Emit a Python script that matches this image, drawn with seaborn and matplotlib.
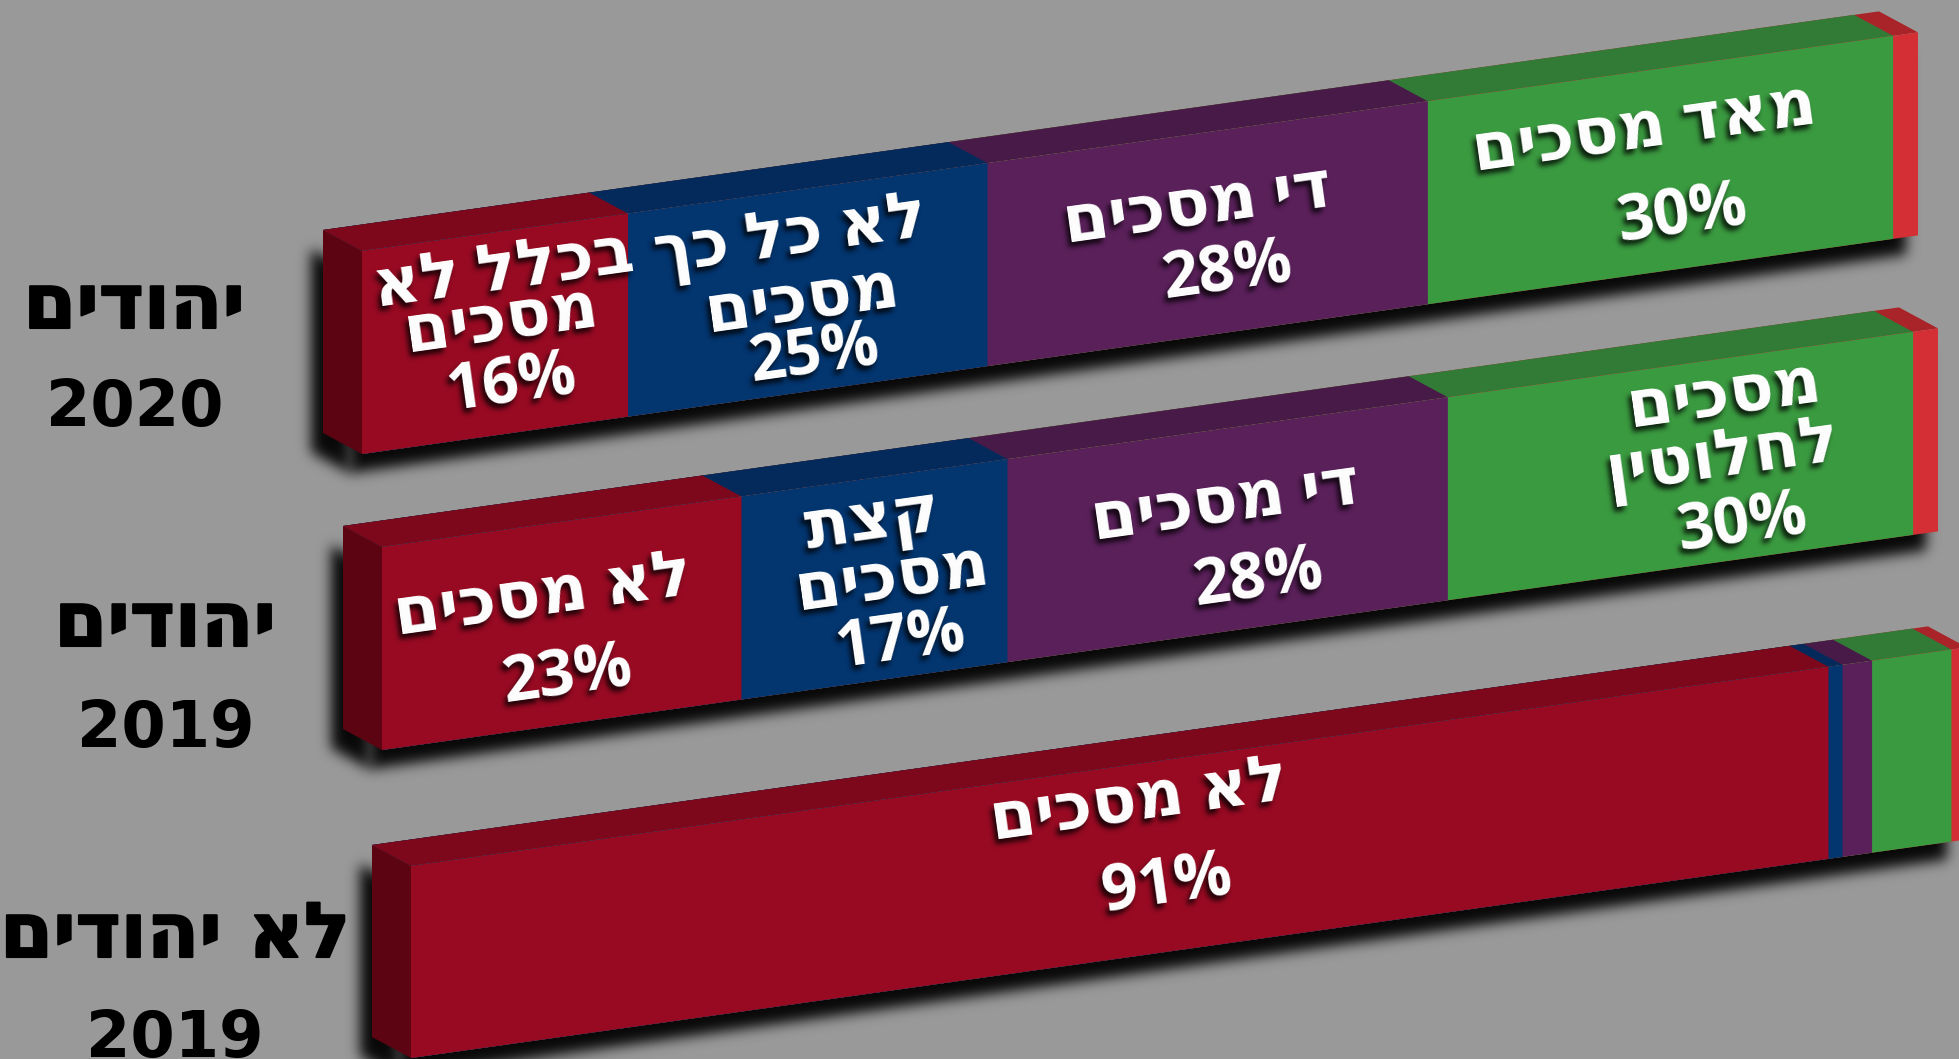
import numpy as np
import pandas as pd
import matplotlib
matplotlib.use("Agg")
import matplotlib.pyplot as plt
import matplotlib.patheffects as pe
import seaborn as sns
from matplotlib.transforms import Affine2D

# ---- data (segment lengths in percent of the bar) ----
groups = ["יהודים 2020", "יהודים 2019", "לא יהודים 2019"]
categories = ["לא מסכים", "קצת מסכים", "די מסכים", "מסכים לחלוטין", "אחר"]
jews_2020 = [17.1, 23.1, 28.3, 29.9, 1.6]
jews_2019 = [23.1, 17.1, 28.3, 29.9, 1.6]
non_jews_2019 = [91.1, 0.9, 1.9, 5.1, 1.0]

front_colors = ["#970A22", "#03356F", "#5A205A", "#3A9A40", "#D32F34"]
top_colors = ["#7E081B", "#032A5B", "#481A48", "#327B36", "#A82428"]
side_color = "#5C0412"
bg_color = "#999999"

# ---- text ----
seg_labels = [
    ("בכלל לא", 504, 272), ("מסכים", 501, 320), ("16%", 512, 385),
    ("לא כל כך", 791, 237), ("מסכים", 802, 300), ("25%", 815, 356),
    ("די מסכים", 1198, 206), ("28%", 1228, 273),
    ("מאד מסכים", 1644, 129), ("30%", 1683, 216),
    ("לא מסכים", 543, 597), ("23%", 568, 677),
    ("קצת", 872, 521), ("מסכים", 892, 578), ("17%", 901, 642),
    ("די מסכים", 1226, 503), ("28%", 1259, 580),
    ("מסכים", 1724, 395), ("לחלוטין", 1723, 457), ("30%", 1743, 525),
    ("לא מסכים", 1139, 802), ("91%", 1167, 886),
]
side_labels = [
    ("יהודים", 134, 328), ("2020", 135, 426),
    ("יהודים", 165, 646), ("2019", 166, 747),
    ("לא יהודים", 175, 957), ("2019", 175, 1057),
]

# ---- geometry of the 3D look, in pixels of the output ----
W_PX, H_PX = 1959, 1059
BAR_LEN = 1556
SLOPE = 0.1405
DEPTH_X, DEPTH_Y = 39, 21
bar_left = [362, 382, 411]
bar_top = [251, 547, 866]
bar_height = [203, 203, 192]


def is_hebrew(s):
    return any("\u0590" <= ch <= "\u05ff" for ch in s)


def rtl(s):
    # matplotlib has no bidi, so Hebrew has to be given in visual order
    return s[::-1] if is_hebrew(s) else s


def front_tf(i):
    k = BAR_LEN / 100
    return Affine2D.from_values(k, -k * SLOPE, 0, bar_height[i],
                                bar_left[i], bar_top[i] + bar_height[i] * (0.5 - i))


def top_tf(i):
    k = BAR_LEN / 100
    return Affine2D.from_values(k, -k * SLOPE, DEPTH_X, DEPTH_Y,
                                bar_left[i] - DEPTH_X + DEPTH_X * (0.5 - i),
                                bar_top[i] - DEPTH_Y + DEPTH_Y * (0.5 - i))


def side_tf(i):
    return Affine2D.from_values(DEPTH_X, DEPTH_Y, 0, bar_height[i],
                                bar_left[i] - DEPTH_X,
                                bar_top[i] - DEPTH_Y + bar_height[i] * (0.5 - i))


def blur_filter(sigma, dx, dy, alpha=1.0):
    # blurred dark copy of whatever the artist draws, for the drop shadows
    # dx, dy in pixels, dy > 0 goes down the picture
    def _f(img, dpi):
        pad = int(3 * sigma) + 1
        a = np.pad(img[:, :, 3], pad)
        offs = np.arange(-pad, pad + 1)
        w = np.exp(-offs ** 2 / (2 * sigma ** 2))
        w = w / w.sum()
        out = np.zeros_like(a)
        for o, v in zip(offs, w):
            out += v * np.roll(a, o, axis=0)
        a = out
        out = np.zeros_like(a)
        for o, v in zip(offs, w):
            out += v * np.roll(a, o, axis=1)
        res = np.zeros(out.shape + (4,))
        res[:, :, 3] = np.clip(out * alpha, 0, 1)
        return res, -pad + dx, -pad - dy
    return _f


sns.set_theme(style="white")
plt.rcParams["font.family"] = ["DejaVu Sans"]

fig = plt.figure(figsize=(W_PX / 100, H_PX / 100), dpi=100, facecolor=bg_color)
ax = fig.add_axes([0, 0, 1, 1])

# long table, cumulative so that the bars can be overdrawn from the longest down
df = pd.DataFrame({
    "group": np.repeat(groups, len(categories)),
    "category": categories * len(groups),
    "value": jews_2020 + jews_2019 + non_jews_2019,
})
df["cum"] = df.groupby("group", sort=False)["value"].cumsum()
totals = df.groupby("group", sort=False)["value"].sum().reset_index()
totals["depth"] = 1


def draw(data, col, color, tf_func):
    n = len(ax.patches)
    sns.barplot(data=data, y="group", x=col, order=groups, orient="h", color=color,
                saturation=1, width=1, errorbar=None, linewidth=0, ax=ax)
    new = list(ax.patches)[n:]
    for p in new:
        i = int(round(p.get_y() + p.get_height() / 2))
        p.set_transform(tf_func(i) + ax.transData)
    return new


# shadows first
shadow = blur_filter(6.5, -12, 19, 0.95)
for p in draw(totals, "value", "black", front_tf) + draw(totals, "depth", "black", side_tf):
    p.set_agg_filter(shadow)

# top faces, then front faces, longest segment first
for c, col_top in list(zip(categories, top_colors))[::-1]:
    draw(df[df["category"] == c], "cum", col_top, top_tf)
for c, col_front in list(zip(categories, front_colors))[::-1]:
    draw(df[df["category"] == c], "cum", col_front, front_tf)
draw(totals, "depth", side_color, side_tf)

ax.set_xlim(0, W_PX)
ax.set_ylim(H_PX, 0)
ax.set_axis_off()

angle = np.degrees(np.arctan(SLOPE))
text_shadow = blur_filter(2.5, -3, 5, 0.8)
for txt, x, y in seg_labels:
    kw = dict(ha="center", va="center", rotation=angle, rotation_mode="anchor",
              fontsize=47.5 if is_hebrew(txt) else 46, fontweight="bold",
              family=["Open Sans", "DejaVu Sans"])
    sh = ax.text(x, y, rtl(txt), color="black", **kw)
    sh.set_agg_filter(text_shadow)
    ax.text(x, y, rtl(txt), color="white", **kw)

for txt, x, y in side_labels:
    t = ax.text(x, y, rtl(txt), color="black", ha="center", va="baseline",
                fontsize=55 if is_hebrew(txt) else 46, fontweight="bold")
    if is_hebrew(txt):
        t.set_path_effects([pe.withStroke(linewidth=1.5, foreground="black")])

fig.savefig("out.png", dpi=100, facecolor=bg_color)
